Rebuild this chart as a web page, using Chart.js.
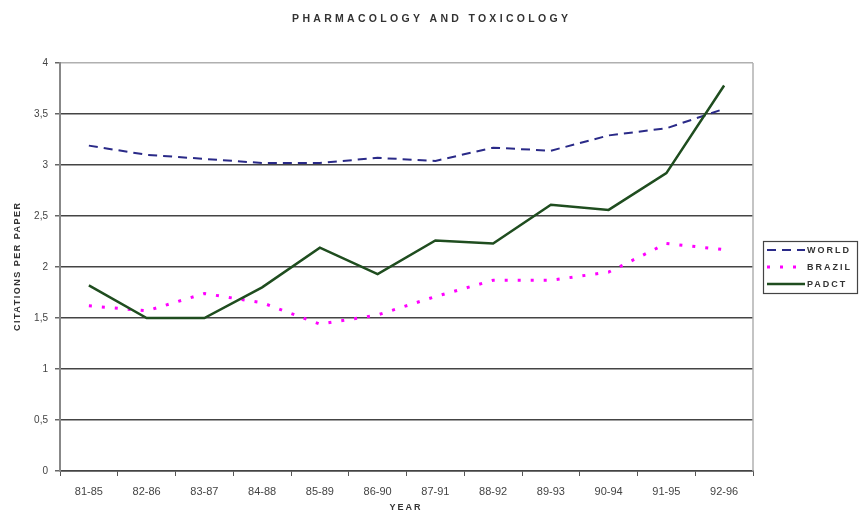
<!DOCTYPE html>
<html><head><meta charset="utf-8">
<script src="https://cdn.jsdelivr.net/npm/chart.js@4/dist/chart.umd.min.js"></script>
<style>html,body{margin:0;padding:0;background:#fff;}#wrap{width:859px;height:515px;}</style>
</head><body><div id="wrap"><canvas id="c" width="859" height="515"></canvas></div>
<script>
const categories = ['81-85','82-86','83-87','84-88','85-89','86-90','87-91','88-92','89-93','90-94','91-95','92-96'];
const world  = [3.19,3.10,3.06,3.02,3.02,3.07,3.04,3.17,3.14,3.29,3.36,3.55];
const brazil = [1.62,1.57,1.74,1.65,1.44,1.53,1.71,1.87,1.87,1.95,2.23,2.17];
const padct  = [1.82,1.50,1.50,1.80,2.19,1.93,2.26,2.23,2.61,2.56,2.92,3.78];
const yTickLabels = ['0','0,5','1','1,5','2','2,5','3','3,5','4'];
const seriesNames = ['WORLD','BRAZIL','PADCT'];
const chartTitle = 'PHARMACOLOGY AND TOXICOLOGY';
const xTitle = 'YEAR';
const yTitle = 'CITATIONS PER PAPER';

function spacedText(ctx, text, x, y, spacing) {
  ctx.letterSpacing = spacing + 'px';
  ctx.fillText(text, x + spacing / 2, y);
  ctx.letterSpacing = '0px';
}

const decor = {
  id: 'decor',
  afterDraw(chart) {
    const ctx = chart.ctx, a = chart.chartArea;
    ctx.save();
    ctx.strokeStyle = '#b0b0b0'; ctx.lineWidth = 1.5;
    ctx.beginPath(); ctx.moveTo(a.right, a.top); ctx.lineTo(a.right, a.bottom); ctx.stroke();

    ctx.fillStyle = '#333';
    ctx.textAlign = 'center'; ctx.textBaseline = 'middle';
    ctx.font = 'bold 10.5px "Liberation Sans", Arial, sans-serif';
    spacedText(ctx, chartTitle, 430, 19, 3.3);

    ctx.font = 'bold 9px "Liberation Sans", Arial, sans-serif';
    spacedText(ctx, xTitle, 405, 508, 2);

    ctx.save();
    ctx.translate(18, 267); ctx.rotate(-Math.PI / 2);
    spacedText(ctx, yTitle, 0, 0, 1.5);
    ctx.restore();

    // legend
    const lx = 763.5, ly = 241.5, lw = 94, lh = 52;
    ctx.strokeStyle = '#444'; ctx.lineWidth = 1.2;
    ctx.strokeRect(lx, ly, lw, lh);
    ctx.textAlign = 'left';
    ctx.font = 'bold 9px "Liberation Sans", Arial, sans-serif';
    chart.data.datasets.forEach((ds, i) => {
      const y = 250 + i * 17;
      ctx.save();
      ctx.strokeStyle = ds.borderColor; ctx.lineWidth = ds.borderWidth;
      ctx.setLineDash(ds.borderDash || []);
      ctx.beginPath(); ctx.moveTo(767, y); ctx.lineTo(805, y); ctx.stroke();
      ctx.restore();
      ctx.fillStyle = '#333';
      ctx.letterSpacing = '2px';
      ctx.fillText(ds.label, 807, y + 0.5);
      ctx.letterSpacing = '0px';
    });
    ctx.restore();
  }
};

new Chart(document.getElementById('c'), {
  type: 'line',
  data: {
    labels: categories,
    datasets: [
      { label: seriesNames[0], data: world, borderColor: '#2a2a88', borderWidth: 2, borderDash: [9, 6], pointRadius: 0, tension: 0, fill: false, order: 2 },
      { label: seriesNames[1], data: brazil, borderColor: '#ff00ff', borderWidth: 3, borderDash: [3, 10], pointRadius: 0, tension: 0, fill: false, order: 3 },
      { label: seriesNames[2], data: padct, borderColor: '#1f4d1f', borderWidth: 2.5, pointRadius: 0, tension: 0, fill: false, order: 1 }
    ]
  },
  options: {
    responsive: false,
    animation: false,
    devicePixelRatio: 1,
    layout: { padding: { left: 0, right: 106, top: 63, bottom: 0 } },
    plugins: { legend: { display: false }, title: { display: false }, tooltip: { enabled: false } },
    scales: {
      x: {
        offset: true,
        afterFit: s => { s.height = 44; },
        grid: { display: true, drawOnChartArea: false, offset: true, tickLength: 5, color: '#555', lineWidth: 1 },
        border: { display: true, color: '#444', width: 1.5 },
        ticks: { padding: 9, color: '#444', font: { family: '"Liberation Sans", Arial, sans-serif', size: 11 }, maxRotation: 0, autoSkip: false }
      },
      y: {
        min: 0, max: 4,
        afterFit: s => { s.width = 60; },
        grid: {
          color: c => (c.tick && c.tick.value === 4) ? '#b0b0b0' : '#444',
          lineWidth: 1.5, tickLength: 5, tickColor: '#666'
        },
        border: { display: true, color: '#888', width: 2 },
        ticks: {
          stepSize: 0.5, padding: 7, color: '#444',
          font: { family: '"Liberation Sans", Arial, sans-serif', size: 10 },
          callback: (v, i) => yTickLabels[i]
        }
      }
    }
  },
  plugins: [decor]
});
</script></body></html>
